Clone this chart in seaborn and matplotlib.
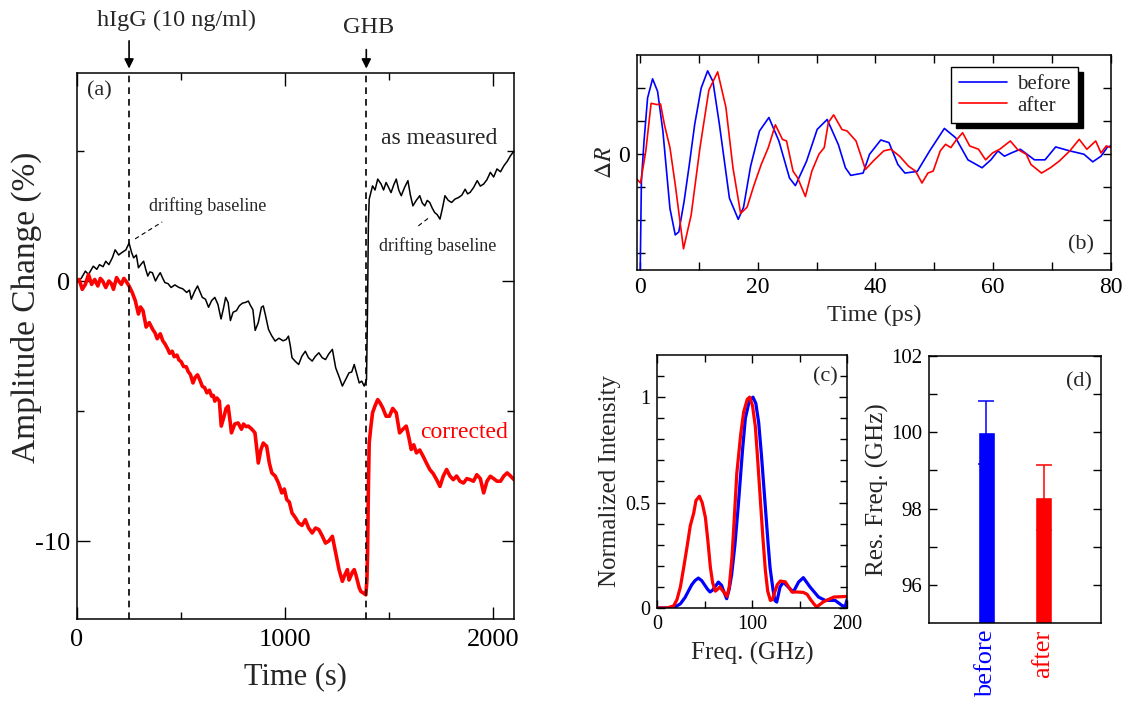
import numpy as np
import pandas as pd
import seaborn as sns
import matplotlib.pyplot as plt

sns.set_theme(style='ticks')
plt.rcParams['font.family'] = ['Liberation Serif', 'DejaVu Serif']
plt.rcParams['mathtext.fontset'] = 'stix'
plt.rcParams['axes.unicode_minus'] = False

# (a) amplitude change vs time
t_meas = [0, 20, 40, 55, 78, 95, 108, 125, 138, 153, 170, 183, 200, 213, 235, 250, 262, 272, 285, 295,
          308, 320, 330, 340, 350, 362, 377, 390, 400, 412, 422, 437, 452, 470, 490, 508, 527, 540, 549, 565,
          579, 590, 602, 617, 632, 647, 662, 677, 692, 705, 714, 726, 737, 750, 766, 780, 795, 811, 823, 834,
          845, 856, 871, 886, 895, 905, 920, 935, 952, 970, 990, 1005, 1016, 1025, 1033, 1050, 1065, 1080, 1097, 1112,
          1130, 1145, 1162, 1178, 1194, 1210, 1227, 1243, 1260, 1275, 1290, 1307, 1320, 1332, 1345, 1356, 1368, 1380, 1391, 1396,
          1400, 1404, 1420, 1432, 1445, 1461, 1473, 1485, 1497, 1509, 1522, 1534, 1546, 1558, 1574, 1590, 1602, 1614, 1630, 1647,
          1659, 1671, 1683, 1695, 1707, 1719, 1731, 1744, 1756, 1768, 1784, 1800, 1816, 1833, 1849, 1865, 1877, 1889, 1906, 1923,
          1938, 1954, 1970, 1986, 2002, 2018, 2035, 2051, 2067, 2083, 2100]
v_meas = [0, 0.1, 0.38, 0.25, 0.57, 0.45, 0.63, 0.55, 0.76, 0.63, 0.9, 1.2, 1.0, 1.08, 1.2, 1.46, 1.1, 0.89, 1.0, 0.51,
          0.65, 0.76, 0.45, 0.19, 0.35, 0.32, 0.0, 0.2, 0.32, 0.1, -0.06, -0.1, -0.25, -0.15, -0.25, -0.3, -0.44, -0.35, -0.7, -0.4,
          -0.19, -0.4, -0.63, -0.7, -1.01, -0.75, -0.63, -0.9, -1.46, -1.0, -0.63, -0.83, -1.52, -1.2, -1.14, -0.95, -0.85, -0.82, -0.77, -0.95,
          -1.1, -1.9, -1.6, -1.01, -0.96, -1.3, -1.86, -2.1, -2.31, -2.2, -2.3, -2.25, -2.12, -2.5, -2.95, -3.1, -3.21, -2.9, -2.7, -2.95,
          -3.08, -2.9, -2.76, -2.95, -3.02, -2.8, -2.63, -3.34, -3.7, -4.04, -3.8, -3.53, -3.5, -3.21, -3.6, -3.92, -3.85, -4.04, -3.8, -1.0,
          2.2, 3.15, 3.66, 3.5, 3.92, 3.73, 3.5, 3.79, 3.6, 3.4, 3.7, 3.92, 3.5, 3.28, 3.6, 3.86, 3.3, 2.89, 3.1, 3.28,
          3.0, 2.89, 3.1, 3.02, 2.8, 2.63, 2.55, 2.38, 2.8, 3.28, 3.1, 3.02, 3.15, 3.21, 3.3, 3.53, 3.35, 3.41, 3.6, 3.86,
          3.65, 3.73, 3.9, 4.18, 4.0, 4.31, 4.2, 4.43, 4.6, 4.82, 5.0]

t_corr = [0, 10, 25, 40, 55, 70, 85, 100, 112, 123, 138, 153, 165, 175, 190, 200, 213, 225, 235, 250,
          265, 280, 295, 305, 317, 332, 347, 362, 375, 385, 400, 412, 422, 435, 445, 457, 467, 480, 490, 500,
          512, 525, 534, 545, 557, 568, 579, 590, 602, 613, 624, 636, 647, 655, 662, 672, 684, 693, 707, 716,
          726, 734, 742, 758, 774, 790, 800, 812, 823, 840, 855, 863, 871, 883, 895, 903, 911, 924, 936, 952,
          968, 984, 996, 1008, 1020, 1033, 1049, 1065, 1081, 1097, 1113, 1130, 1146, 1162, 1178, 1194, 1210, 1227, 1243, 1259,
          1275, 1287, 1299, 1307, 1315, 1323, 1332, 1340, 1348, 1356, 1364, 1376, 1388, 1393, 1396, 1400, 1404, 1412, 1420, 1432,
          1445, 1457, 1469, 1485, 1501, 1517, 1534, 1550, 1566, 1582, 1594, 1606, 1618, 1631, 1647, 1663, 1679, 1695, 1711, 1728,
          1744, 1760, 1776, 1792, 1808, 1824, 1840, 1857, 1873, 1889, 1905, 1921, 1938, 1954, 1970, 1986, 2002, 2018, 2035, 2051,
          2067, 2083, 2100]
v_corr = [0, 0.06, -0.32, -0.13, 0.25, -0.13, 0.06, -0.19, 0.1, 0.0, -0.25, 0.0, -0.1, -0.32, 0.13, 0.0, -0.13, 0.1, 0.0, -0.19,
          -0.44, -0.76, -1.27, -1.0, -1.14, -1.77, -1.6, -1.84, -2.0, -2.22, -2.03, -2.3, -2.41, -2.6, -2.78, -2.7, -2.91, -2.85, -3.04, -3.1,
          -3.29, -3.3, -3.48, -3.6, -3.92, -3.7, -3.61, -3.8, -4.05, -4.1, -4.3, -4.2, -4.43, -4.4, -4.62, -4.5, -4.62, -5.58, -5.19, -4.9,
          -4.81, -5.3, -5.84, -5.5, -5.46, -5.7, -5.5, -5.6, -5.58, -5.7, -5.84, -6.4, -7.0, -6.5, -6.23, -6.3, -6.35, -7.0, -7.38, -7.5,
          -7.77, -8.15, -8.0, -8.41, -8.5, -8.92, -9.1, -9.31, -9.4, -9.18, -9.5, -9.69, -9.5, -9.56, -9.8, -10.08, -10.0, -9.82, -10.46, -11.1,
          -11.55, -11.3, -11.1, -11.5, -11.36, -11.2, -11.1, -11.3, -11.55, -11.8, -11.94, -12.0, -12.07, -11.5, -10.5, -8.0, -6.23, -5.6, -5.07, -4.8,
          -4.56, -4.7, -4.88, -5.2, -5.2, -4.9, -5.07, -5.84, -5.7, -5.58, -6.0, -6.48, -6.3, -6.61, -6.5, -6.74, -7.0, -7.25, -7.4, -7.64,
          -7.9, -7.5, -7.25, -7.5, -7.64, -7.5, -7.7, -7.77, -7.6, -7.64, -7.7, -7.45, -7.6, -8.15, -7.7, -7.51, -7.6, -7.7, -7.7, -7.5,
          -7.38, -7.5, -7.64]

# (b) transient reflectivity
tb_before = [0, 0.25, 0.7, 1.3, 2.15, 3.0, 3.9, 5.1, 6.0, 6.6, 7.5, 8.4, 9.3, 10.4, 11.5, 12.4, 13.5, 15.2, 16.7, 17.6,
             18.8, 20.3, 21.9, 23.6, 25.4, 26.4, 28.3, 30.1, 31.8, 33.7, 34.9, 35.8, 37.9, 39.0, 40.9, 42.3, 43.8, 45.0, 47.1, 49.2,
             51.7, 53.6, 55.7, 58.1, 59.6, 60.8, 61.9, 63.1, 64.6, 67.0, 68.8, 70.6, 73.0, 75.4, 76.9, 78.3, 79.4, 80]
dr_before = [-4.2, -0.83, 0.4, 1.7, 2.28, 1.9, 0.7, -1.64, -2.44, -2.35, -1.43, -0.3, 0.9, 2.0, 2.52, 2.2, 0.9, -1.33, -1.97, -1.6,
             -0.36, 0.7, 1.11, 0.4, -0.72, -0.95, -0.21, 0.75, 1.05, 0.29, -0.41, -0.64, -0.57, 0.0, 0.43, 0.35, -0.31, -0.57, -0.52, 0.1,
             0.78, 0.5, -0.17, -0.41, -0.17, 0.1, -0.06, 0.04, 0.15, -0.17, -0.17, 0.22, 0.1, 0.0, -0.23, -0.06, 0.22, 0.25]
tb_after = [-0.6, 0.1, 1.0, 1.9, 2.9, 3.5, 4.2, 5.1, 6.0, 7.4, 8.7, 10.2, 11.7, 13.2, 14.6, 15.8, 17.1, 18.2, 19.4, 20.6,
            21.8, 23.0, 24.2, 24.9, 26.0, 26.8, 28.1, 29.2, 30.4, 31.3, 32.0, 32.9, 34.3, 35.2, 36.7, 38.3, 39.6, 41.4, 42.6, 44.1,
            45.6, 46.8, 47.9, 48.9, 49.8, 51.0, 51.9, 52.8, 53.6, 54.8, 56.0, 57.5, 58.7, 59.9, 61.1, 62.9, 64.1, 65.6, 66.4, 68.2,
            69.7, 71.2, 73.0, 74.6, 75.9, 77.4, 78.3, 79.2, 80]
dr_after = [-0.74, -0.87, 0.1, 1.54, 1.5, 1.52, 0.86, 0.2, -0.92, -2.86, -1.84, 0.2, 1.93, 2.49, 1.42, -0.41, -1.79, -1.6, -0.92, -0.31,
            0.2, 0.89, 0.45, 0.4, -0.51, -0.72, -1.28, -0.51, 0.0, 0.2, 0.96, 1.19, 0.75, 0.7, 0.4, -0.46, -0.21, 0.1, 0.15, -0.06,
            -0.36, -0.51, -0.87, -0.57, -0.51, 0.1, 0.3, 0.2, 0.4, 0.65, 0.25, 0.15, -0.17, 0.04, 0.15, 0.4, 0.15, 0.0, -0.31, -0.57,
            -0.41, -0.21, 0.1, 0.45, 0.15, 0.4, 0.04, 0.25, 0.2]

# (c) spectra
f_before = [0, 12, 19, 24.6, 29.5, 33, 36.5, 40, 43.5, 47, 50.5, 53, 55.8, 58.5, 61, 64.6, 68, 71, 73.3, 76, 78.6, 82, 85.6, 90, 93, 97, 101, 104,
            107, 110, 114, 117, 119, 122, 124, 126, 129.5, 133, 138, 143.5, 149, 154, 161, 170, 177, 187.5, 194.4, 198, 200]
i_before = [0, 0, 0.005, 0.02, 0.05, 0.08, 0.11, 0.13, 0.142, 0.13, 0.107, 0.09, 0.076, 0.085, 0.1, 0.123, 0.107, 0.07, 0.044, 0.09, 0.16, 0.3, 0.49, 0.75, 0.9, 0.98, 1.0, 0.97,
            0.88, 0.72, 0.48, 0.3, 0.19, 0.09, 0.036, 0.028, 0.1, 0.123, 0.1, 0.076, 0.123, 0.144, 0.1, 0.052, 0.036, 0.036, 0.013, 0.005, 0.04]
f_after = [0, 10.5, 17.5, 21, 24.6, 28, 31.6, 35, 38.6, 41, 44.6, 47.5, 50.9, 53.5, 56.1, 58.5, 61.4, 64, 66, 70.2, 73.7, 76, 78.9, 81, 84, 88, 91.2,
           95, 97.5, 100.5, 103.5, 106, 108.8, 111.5, 114, 116.5, 119.3, 121.5, 123.5, 126.5, 129.8, 135, 142, 147, 154, 158, 161, 165, 168, 175, 186, 200]
i_after = [0, 0, 0.01, 0.04, 0.1, 0.19, 0.29, 0.39, 0.45, 0.51, 0.53, 0.5, 0.43, 0.32, 0.195, 0.12, 0.08, 0.09, 0.1, 0.076, 0.055, 0.1, 0.24, 0.4, 0.64, 0.82, 0.93,
           0.99, 1.0, 0.96, 0.86, 0.7, 0.51, 0.33, 0.18, 0.08, 0.036, 0.04, 0.07, 0.11, 0.128, 0.124, 0.076, 0.076, 0.074, 0.065, 0.044, 0.02, 0.005, 0.029, 0.052, 0.055]

# (d) resonance frequency
states = ['before', 'after']
res_freq = [100.0, 98.3]
res_err = [0.83, 0.85]

BLUE, RED = '#0000ff', '#ff0000'

fig = plt.figure(figsize=(11.33, 7.06), dpi=100)
ax_a = fig.add_axes([0.0680, 0.1232, 0.3857, 0.7734])
ax_b = fig.add_axes([0.5622, 0.6176, 0.4184, 0.3045])
ax_c = fig.add_axes([0.5799, 0.1388, 0.1677, 0.3584])
ax_d = fig.add_axes([0.8199, 0.1176, 0.1518, 0.3782])

def style(ax, size, major=6, minor=3):
    for s in ax.spines.values():
        s.set_linewidth(1.1)
        s.set_color('black')
    ax.tick_params(which='both', direction='in', top=True, right=True, width=1.0,
                   labelsize=size, colors='black', pad=5)
    ax.tick_params(which='major', length=major)
    ax.tick_params(which='minor', length=minor)

# ---- (a)
sns.lineplot(x=t_meas, y=v_meas, ax=ax_a, color='black', lw=1.1)
sns.lineplot(x=t_corr, y=v_corr, ax=ax_a, color=RED, lw=2.6)
for tx in [250, 1390]:
    ax_a.axvline(tx, color='black', ls=(0, (4, 3)), lw=1.2)
ax_a.set_xlim(0, 2100)
ax_a.set_ylim(-13, 8)
ax_a.set_xticks([0, 1000, 2000])
ax_a.set_xticks([500, 1500], minor=True)
ax_a.set_yticks([-10, 0])
ax_a.set_yticks([-5, 5], minor=True)
style(ax_a, 19, major=9, minor=5)
ax_a.tick_params(axis='x', pad=7)
ax_a.set_xlabel('Time (s)', fontsize=22, labelpad=8)
ax_a.set_ylabel('Amplitude Change (%)', fontsize=24)
ax_a.yaxis.set_label_coords(-0.080, 0.57)
ax_a.text(48, 7.3, '(a)', fontsize=16, va='center')
ax_a.text(1462, 5.5, 'as measured', fontsize=17, va='center')
ax_a.text(1649, -5.83, 'corrected', fontsize=17, va='center', color=RED)
ax_a.text(346, 2.9, 'drifting baseline', fontsize=13, va='center')
ax_a.plot([279, 409], [1.62, 2.27], color='black', ls=(0, (4, 3)), lw=0.8)
ax_a.text(1452, 1.35, 'drifting baseline', fontsize=13, va='center')
ax_a.plot([1640, 1697], [2.12, 2.47], color='black', ls=(0, (4, 3)), lw=0.8)
ax_a.annotate('', xy=(250, 1.003), xytext=(250, 1.064), xycoords=('data', 'axes fraction'),
              textcoords=('data', 'axes fraction'),
              arrowprops=dict(arrowstyle='-|>', color='black', lw=1.2, mutation_scale=14))
ax_a.annotate('', xy=(1390, 1.003), xytext=(1390, 1.048), xycoords=('data', 'axes fraction'),
              textcoords=('data', 'axes fraction'),
              arrowprops=dict(arrowstyle='-|>', color='black', lw=1.2, mutation_scale=14))
ax_a.text(476, 1.097, 'hIgG (10 ng/ml)', fontsize=17.5, ha='center', va='center',
          transform=ax_a.get_xaxis_transform())
ax_a.text(1399, 1.084, 'GHB', fontsize=17.5, ha='center', va='center',
          transform=ax_a.get_xaxis_transform())

# ---- (b)
sns.lineplot(x=tb_before, y=dr_before, ax=ax_b, color=BLUE, lw=1.2, label='before', sort=False)
sns.lineplot(x=tb_after, y=dr_after, ax=ax_b, color=RED, lw=1.2, label='after', sort=False)
ax_b.set_xlim(-0.5, 80)
ax_b.set_ylim(-3.5, 3)
ax_b.set_xticks([0, 20, 40, 60, 80])
ax_b.set_xticks([10, 30, 50, 70], minor=True)
ax_b.set_yticks([-3, -2, -1, 0, 1, 2])
ax_b.set_yticklabels(['', '', '', '0', '', ''])
style(ax_b, 17, major=6, minor=6)
ax_b.set_xlabel('Time (ps)', fontsize=17.5, labelpad=5)
ax_b.set_ylabel(r'$\Delta R$', fontsize=17, labelpad=2)
ax_b.text(0.937, 0.116, '(b)', fontsize=16, ha='center', va='center', transform=ax_b.transAxes)
leg = ax_b.legend(loc='upper right', bbox_to_anchor=(0.93, 0.944), fontsize=15, frameon=True,
                  fancybox=False, shadow={'color': 'black', 'alpha': 1.0, 'ox': 3.5, 'oy': -3.5},
                  handlelength=2.3, borderpad=0.35, labelspacing=0.1, handletextpad=0.5,
                  borderaxespad=0)
leg.get_frame().set_edgecolor('black')
leg.get_frame().set_linewidth(1.0)
leg.get_frame().set_alpha(1.0)

# ---- (c)
sns.lineplot(x=f_before, y=i_before, ax=ax_c, color=BLUE, lw=2.3)
sns.lineplot(x=f_after, y=i_after, ax=ax_c, color=RED, lw=2.3)
ax_c.set_xlim(0, 200)
ax_c.set_ylim(0, 1.2)
ax_c.set_xticks([0, 100, 200])
ax_c.set_xticks([50, 150], minor=True)
ax_c.set_yticks([0, 0.5, 1])
ax_c.set_yticklabels(['0', '0.5', '1'])
ax_c.set_yticks(np.arange(0.1, 1.2, 0.1), minor=True)
style(ax_c, 14.5, major=6, minor=5)
ax_c.set_xlabel('Freq. (GHz)', fontsize=18, labelpad=6)
ax_c.set_ylabel('Normalized Intensity', fontsize=18, labelpad=3)
ax_c.text(0.884, 0.913, '(c)', fontsize=16, ha='center', va='center', transform=ax_c.transAxes)

# ---- (d)
df_d = pd.DataFrame({'state': states, 'freq': res_freq})
sns.barplot(data=df_d, x='state', y='freq', hue='state', palette=[BLUE, RED],
            width=0.3, ax=ax_d, legend=False, saturation=1)
for i, c in enumerate([BLUE, RED]):
    ax_d.errorbar(i, res_freq[i], yerr=res_err[i], fmt='none', ecolor=c, elinewidth=1.1,
                  capsize=6, capthick=1.1, zorder=1)
ax_d.set_xlim(-1, 2)
ax_d.set_ylim(95, 102)
ax_d.set_yticks([96, 98, 100, 102])
ax_d.set_yticks([97, 99, 101], minor=True)
style(ax_d, 15, major=6, minor=6)
ax_d.tick_params(axis='x', which='both', length=0, labelsize=19, rotation=90, pad=5)
for lab, c in zip(ax_d.get_xticklabels(), [BLUE, RED]):
    lab.set_color(c)
ax_d.set_xlabel('')
ax_d.set_ylabel('Res. Freq. (GHz)', fontsize=18, labelpad=1)
ax_d.text(0.872, 0.903, '(d)', fontsize=16, ha='center', va='center', transform=ax_d.transAxes)

fig.savefig('out.png', dpi=100)
